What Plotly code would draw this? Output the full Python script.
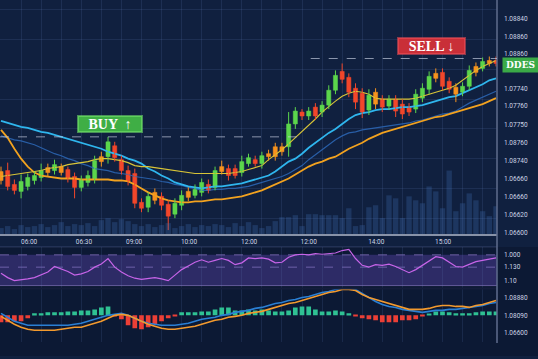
import plotly.graph_objects as go

# ---------------- data ----------------
OPEN = [1.06663, 1.06664, 1.06650, 1.06643, 1.06648, 1.06654, 1.06657, 1.06667, 1.06664, 1.06668,
        1.06665, 1.06658, 1.06647, 1.06652, 1.06655, 1.06678, 1.06678, 1.06689, 1.06675, 1.06664,
        1.06661, 1.06632, 1.06627, 1.06642, 1.06638, 1.06630, 1.06620, 1.06629, 1.06643, 1.06639,
        1.06642, 1.06650, 1.06647, 1.06668, 1.06666, 1.06666, 1.06662, 1.06671, 1.06675, 1.06671,
        1.06681, 1.06688, 1.06688, 1.06688, 1.06711, 1.06723, 1.06719, 1.06728, 1.06723, 1.06730,
        1.06745, 1.06764, 1.06758, 1.06747, 1.06742, 1.06725, 1.06743, 1.06736, 1.06729, 1.06736,
        1.06731, 1.06728, 1.06726, 1.06737, 1.06746, 1.06762, 1.06763, 1.06754, 1.06748, 1.06743,
        1.06749, 1.06769, 1.06767, 1.06775, 1.06775]
HIGH = [1.06668, 1.06672, 1.06655, 1.06660, 1.06661, 1.06663, 1.06671, 1.06671, 1.06675, 1.06671,
        1.06668, 1.06662, 1.06659, 1.06664, 1.06679, 1.06683, 1.06698, 1.06693, 1.06679, 1.06669,
        1.06666, 1.06636, 1.06642, 1.06646, 1.06642, 1.06634, 1.06636, 1.06644, 1.06647, 1.06650,
        1.06656, 1.06655, 1.06668, 1.06674, 1.06670, 1.06670, 1.06679, 1.06681, 1.06679, 1.06683,
        1.06685, 1.06692, 1.06692, 1.06723, 1.06728, 1.06726, 1.06728, 1.06732, 1.06734, 1.06750,
        1.06765, 1.06772, 1.06762, 1.06752, 1.06747, 1.06746, 1.06747, 1.06740, 1.06740, 1.06740,
        1.06736, 1.06732, 1.06746, 1.06752, 1.06764, 1.06767, 1.06767, 1.06758, 1.06752, 1.06753,
        1.06770, 1.06773, 1.06778, 1.06779, 1.06779]
LOW = [1.06650, 1.06644, 1.06640, 1.06636, 1.06644, 1.06650, 1.06653, 1.06658, 1.06660, 1.06659,
       1.06652, 1.06636, 1.06643, 1.06648, 1.06651, 1.06668, 1.06671, 1.06673, 1.06660, 1.06649,
       1.06626, 1.06622, 1.06622, 1.06630, 1.06624, 1.06604, 1.06616, 1.06624, 1.06633, 1.06636,
       1.06638, 1.06641, 1.06644, 1.06660, 1.06654, 1.06656, 1.06658, 1.06668, 1.06668, 1.06666,
       1.06674, 1.06674, 1.06679, 1.06678, 1.06706, 1.06715, 1.06715, 1.06715, 1.06718, 1.06726,
       1.06741, 1.06752, 1.06738, 1.06726, 1.06717, 1.06720, 1.06726, 1.06723, 1.06725, 1.06718,
       1.06716, 1.06719, 1.06722, 1.06733, 1.06741, 1.06753, 1.06745, 1.06742, 1.06733, 1.06739,
       1.06745, 1.06759, 1.06764, 1.06769, 1.06769]
CLOSE = [1.06654, 1.06648, 1.06644, 1.06653, 1.06657, 1.06659, 1.06664, 1.06662, 1.06670, 1.06662,
         1.06656, 1.06647, 1.06655, 1.06659, 1.06674, 1.06673, 1.06693, 1.06677, 1.06664, 1.06653,
         1.06631, 1.06626, 1.06638, 1.06634, 1.06629, 1.06618, 1.06631, 1.06639, 1.06637, 1.06645,
         1.06652, 1.06644, 1.06664, 1.06663, 1.06659, 1.06659, 1.06673, 1.06677, 1.06671, 1.06679,
         1.06678, 1.06678, 1.06683, 1.06711, 1.06724, 1.06719, 1.06724, 1.06719, 1.06730, 1.06745,
         1.06760, 1.06756, 1.06743, 1.06733, 1.06723, 1.06740, 1.06731, 1.06728, 1.06736, 1.06724,
         1.06721, 1.06723, 1.06741, 1.06747, 1.06759, 1.06757, 1.06749, 1.06746, 1.06741, 1.06749,
         1.06765, 1.06763, 1.06774, 1.06772, 1.06772]
# candles drawn in the neutral (orange) tone
NEUTRAL = [0, 7, 9, 15, 23, 28, 33, 40, 41, 42, 56, 65, 68, 71, 73]

MA_FAST = [1.06658, 1.06659, 1.06660, 1.06661, 1.06662, 1.06663, 1.06664, 1.06666, 1.06667, 1.06668,
           1.06670, 1.06671, 1.06672, 1.06673, 1.06675, 1.06676, 1.06676, 1.06675, 1.06674, 1.06672,
           1.06669, 1.06668, 1.06668, 1.06667, 1.06666, 1.06665, 1.06664, 1.06663, 1.06662, 1.06661,
           1.06661, 1.06661, 1.06661, 1.06661, 1.06661, 1.06662, 1.06663, 1.06665, 1.06667, 1.06669,
           1.06675, 1.06680, 1.06685, 1.06691, 1.06697, 1.06703, 1.06710, 1.06716, 1.06723, 1.06729,
           1.06734, 1.06739, 1.06742, 1.06744, 1.06743, 1.06741, 1.06737, 1.06736, 1.06736, 1.06736,
           1.06736, 1.06736, 1.06737, 1.06739, 1.06741, 1.06743, 1.06745, 1.06747, 1.06750, 1.06755,
           1.06760, 1.06765, 1.06769, 1.06772, 1.06775]
MA_MID = [1.06714, 1.06712, 1.06710, 1.06708, 1.06707, 1.06705, 1.06703, 1.06702, 1.06700, 1.06698,
          1.06696, 1.06694, 1.06692, 1.06690, 1.06688, 1.06686, 1.06683, 1.06681, 1.06679, 1.06676,
          1.06674, 1.06671, 1.06666, 1.06663, 1.06659, 1.06656, 1.06652, 1.06650, 1.06648, 1.06647,
          1.06646, 1.06647, 1.06648, 1.06648, 1.06649, 1.06650, 1.06651, 1.06653, 1.06655, 1.06657,
          1.06659, 1.06663, 1.06668, 1.06673, 1.06676, 1.06681, 1.06687, 1.06692, 1.06697, 1.06702,
          1.06706, 1.06711, 1.06716, 1.06720, 1.06722, 1.06723, 1.06725, 1.06726, 1.06726, 1.06727,
          1.06728, 1.06728, 1.06729, 1.06730, 1.06732, 1.06734, 1.06736, 1.06738, 1.06739, 1.06742,
          1.06745, 1.06748, 1.06751, 1.06755, 1.06757]
MA_MID_B = [1.06699, 1.06697, 1.06695, 1.06694, 1.06692, 1.06690, 1.06687, 1.06684, 1.06681, 1.06679,
            1.06676, 1.06674, 1.06671, 1.06669, 1.06666, 1.06665, 1.06664, 1.06662, 1.06661, 1.06660,
            1.06658, 1.06657, 1.06656, 1.06655, 1.06653, 1.06652, 1.06650, 1.06649, 1.06647, 1.06646,
            1.06644, 1.06644, 1.06645, 1.06645, 1.06646, 1.06646, 1.06647, 1.06648, 1.06650, 1.06652,
            1.06654, 1.06656, 1.06658, 1.06661, 1.06665, 1.06669, 1.06675, 1.06680, 1.06685, 1.06690,
            1.06695, 1.06699, 1.06702, 1.06703, 1.06705, 1.06706, 1.06707, 1.06708, 1.06709, 1.06710,
            1.06711, 1.06712, 1.06714, 1.06715, 1.06717, 1.06719, 1.06721, 1.06722, 1.06724, 1.06728,
            1.06732, 1.06735, 1.06738, 1.06741, 1.06744]
MA_SLOW = [1.06705, 1.06697, 1.06686, 1.06676, 1.06668, 1.06662, 1.06659, 1.06658, 1.06657, 1.06656,
           1.06656, 1.06656, 1.06655, 1.06655, 1.06655, 1.06655, 1.06655, 1.06654, 1.06654, 1.06653,
           1.06650, 1.06646, 1.06642, 1.06639, 1.06636, 1.06634, 1.06633, 1.06632, 1.06632, 1.06633,
           1.06633, 1.06634, 1.06635, 1.06635, 1.06636, 1.06637, 1.06638, 1.06640, 1.06642, 1.06644,
           1.06647, 1.06650, 1.06653, 1.06656, 1.06660, 1.06664, 1.06668, 1.06671, 1.06673, 1.06676,
           1.06678, 1.06682, 1.06686, 1.06689, 1.06692, 1.06696, 1.06699, 1.06702, 1.06704, 1.06706,
           1.06708, 1.06710, 1.06712, 1.06714, 1.06716, 1.06718, 1.06719, 1.06721, 1.06723, 1.06725,
           1.06727, 1.06729, 1.06731, 1.06734, 1.06737]

VOLUME = [24, 32, 20, 36, 28, 32, 40, 28, 36, 48, 32, 40, 36, 44, 32,
          56, 64, 48, 60, 52, 40,
          32, 40, 28, 36, 44, 24, 32, 40, 28, 36,
          32, 40, 36, 28, 44, 32, 48, 36, 24, 32,
          52, 68, 68, 76, 32, 80, 80, 76, 76, 76, 64, 104, 32, 36, 108, 116, 64, 156, 144, 64,
          152, 136, 124, 192, 172, 104, 256, 92, 124, 164, 136, 92, 72, 112]

RSI = [40, 33, 28, 29, 31, 33, 37, 42, 51, 47, 43, 37, 39, 43, 50, 55, 64, 50, 42, 36,
       32, 30, 31, 33, 31, 28, 37, 46, 52, 58, 62, 58, 61, 64, 61, 54, 57, 65, 64, 65,
       63, 57, 58, 66, 70, 71, 70, 72, 71, 72, 73, 77, 79, 64, 53, 50, 54, 53, 55, 51,
       46, 41, 46, 53, 60, 67, 65, 58, 51, 50, 54, 59, 61, 63, 65]
RSI_LEVELS = [70, 50, 20]

MACD = [-1, -5, -9, -12, -14, -15, -15, -15, -15, -14, -13, -12, -12, -10, -8, -6, -3, 0, 1, 0,
        -3, -6, -9, -11, -13, -14, -14, -13, -12, -11, -9, -7, -5, -4, -2, -1, 0, 2, 3, 4,
        6, 8, 10, 12, 13, 15, 17, 19, 21, 23, 24, 26, 26, 25, 21, 18, 16, 14, 12, 10,
        8, 6, 6, 6, 7, 9, 10, 10, 9, 9, 8, 10, 11, 13, 15]
SIGNAL = [2, -2, -6, -8, -10, -10, -10, -10, -10, -10, -10, -9, -8, -6, -4, -2, 0, 1, 2, 0,
          -3, -6, -8, -9, -10, -10, -10, -9, -8, -6, -4, -3, -2, 0, 1, 3, 4, 5, 7, 8,
          10, 12, 13, 15, 16, 18, 19, 21, 23, 24, 26, 27, 27, 26, 22, 18, 14, 11, 9, 8,
          6, 5, 4, 3, 4, 5, 5, 6, 6, 7, 8, 9, 10, 12, 13]
HIST = [-7, -7, -6, -6, -3, 2, 2, 3, 3, 3, 4, 4, 5, 5, 6, 8, 9,
        -1, -4, -10, -13, -14, -12, -9, -6, -3, -1,
        3, 3, 3, 4, 4, 6, 8, 8, 5, 5, 6, 5, 6, 5,
        4, 4, 5, 8, 9, 9, 6, 4, 4, 5, 4, 2,
        -1, -3, -4, -5, -7, -7, -7, -5, -5, -4, -1,
        1, 4, 4, 3, 2, 2, 2, 3, 4, 4, 4]

TIME_LABELS = ["06:00", "06:30", "09:00", "10:00", "12:00", "12:00", "14:00", "15:00"]
TIME_POS = [4.2, 12.4, 19.9, 28.1, 37.1, 46.0, 56.1, 66.1]
PRICE_TICKS = [1.06817, 1.06799, 1.06782, 1.06747, 1.06729, 1.06710,
               1.06692, 1.06674, 1.06656, 1.06638, 1.06619, 1.06601]
PRICE_LABELS = ["1.08840", "1.08860", "1.08860", "1.07740", "1.07760", "1.07750",
                "1.08760", "1.08740", "1.06660", "1.06660", "1.06620", "1.06600"]
RSI_TICKS = [70, 50, 28]
RSI_LABELS = ["1.000", "1.130", "1.10"]
MACD_TICKS = [18, 0, -18]
MACD_LABELS = ["1.08880", "1.08090", "1.06600"]
BUY_LEVEL = 1.06698
SELL_LEVEL = 1.06777
TAG_PRICE = 1.06770

# ---------------- figure ----------------
W, H = 538, 359
N = len(OPEN)
X = list(range(N))
BG = "#10203f"


def dom(top_px, bottom_px):
    return [1 - bottom_px / H, 1 - top_px / H]


GREEN, RED, ORANGE = "#5cd64c", "#f2472b", "#f7931e"
tone = []
for i in range(N):
    if i in NEUTRAL:
        tone.append(ORANGE)
    elif CLOSE[i] >= OPEN[i]:
        tone.append(GREEN)
    else:
        tone.append(RED)

fig = go.Figure()

# volume (background)
fig.add_trace(go.Bar(x=X, y=VOLUME, yaxis="y4", width=0.8,
                     marker=dict(color="rgba(70,120,195,0.26)", line_width=0),
                     hoverinfo="skip"))

# moving averages
fig.add_trace(go.Scatter(x=X, y=MA_MID_B, mode="lines", line=dict(color="rgba(45,105,185,0.85)", width=1.2)))
fig.add_trace(go.Scatter(x=X, y=MA_SLOW, mode="lines", line=dict(color="#f2a21f", width=1.8)))
fig.add_trace(go.Scatter(x=X, y=MA_MID, mode="lines", line=dict(color="#2fb6ee", width=1.8)))
fig.add_trace(go.Scatter(x=X, y=MA_FAST, mode="lines", line=dict(color="#d8c437", width=1.1)))

# candle wicks
for col in (GREEN, RED, ORANGE):
    wx, wy = [], []
    for i in range(N):
        if tone[i] == col:
            wx += [i, i, None]
            wy += [HIGH[i], LOW[i], None]
    fig.add_trace(go.Scatter(x=wx, y=wy, mode="lines", line=dict(color=col, width=1), hoverinfo="skip"))

# candle bodies
fig.add_trace(go.Bar(x=X, y=[abs(c - o) for o, c in zip(OPEN, CLOSE)],
                     base=[min(o, c) for o, c in zip(OPEN, CLOSE)],
                     width=0.62, marker=dict(color=tone, line=dict(color=tone, width=0.5))))

# RSI
fig.add_trace(go.Scatter(x=X, y=RSI, yaxis="y2", mode="lines", line=dict(color="#c764e8", width=1.2)))

# MACD
fig.add_trace(go.Bar(x=X, y=HIST, yaxis="y3", width=0.7,
                     marker=dict(color=["#2fc193" if v >= 0 else "#ec3f36" for v in HIST], line_width=0)))
fig.add_trace(go.Scatter(x=X, y=SIGNAL, yaxis="y3", mode="lines", line=dict(color="#2a7fd4", width=1.6)))
fig.add_trace(go.Scatter(x=X, y=MACD, yaxis="y3", mode="lines", line=dict(color="#f39a2e", width=1.6)))

tickfont = dict(family="Roboto", size=6.5, color="#cdd4e5")
grid = "rgba(95,125,185,0.17)"
xr = [-0.15, 74.15]

shapes = [
    # darker lower region
    dict(type="rect", xref="paper", yref="paper", x0=-0.01, x1=1.2, y0=0, y1=dom(0, 249)[0],
         fillcolor="rgba(4,10,28,0.30)", line_width=0, layer="below"),
    # RSI band
    dict(type="rect", xref="paper", yref="y2", x0=0, x1=1, y0=RSI_LEVELS[2], y1=RSI_LEVELS[0],
         fillcolor="rgba(105,75,190,0.36)", line_width=0, layer="below"),
    dict(type="line", xref="paper", yref="y2", x0=0, x1=1, y0=RSI_LEVELS[0], y1=RSI_LEVELS[0],
         line=dict(color="rgba(175,150,235,0.55)", width=1, dash="dash"), layer="below"),
    dict(type="line", xref="paper", yref="y2", x0=0, x1=1, y0=RSI_LEVELS[1], y1=RSI_LEVELS[1],
         line=dict(color="rgba(175,150,235,0.5)", width=1, dash="dash"), layer="below"),
    dict(type="line", xref="paper", yref="y2", x0=0, x1=1, y0=RSI_LEVELS[2], y1=RSI_LEVELS[2],
         line=dict(color="rgba(160,140,220,0.55)", width=1), layer="below"),
    # panel separators
    dict(type="line", xref="paper", yref="paper", x0=0, x1=1, y0=dom(249, 249)[0], y1=dom(249, 249)[0],
         line=dict(color="rgba(110,120,170,0.35)", width=1)),
    dict(type="line", xref="paper", yref="paper", x0=0, x1=1, y0=dom(291, 291)[0], y1=dom(291, 291)[0],
         line=dict(color="rgba(20,30,60,0.9)", width=2)),
    # right axis line
    dict(type="line", xref="paper", yref="paper", x0=1, x1=1, y0=dom(0, 346)[0], y1=1,
         line=dict(color="#5f6d8e", width=1.5)),
    # buy / sell levels
    dict(type="line", xref="x", yref="y", x0=xr[0], x1=44.2, y0=BUY_LEVEL, y1=BUY_LEVEL,
         line=dict(color="rgba(205,212,230,0.65)", width=1, dash="dash")),
    dict(type="line", xref="x", yref="y", x0=46.3, x1=xr[1], y0=SELL_LEVEL, y1=SELL_LEVEL,
         line=dict(color="rgba(205,212,230,0.65)", width=1, dash="dash")),
]

annotations = [
    dict(x=16.3, y=1.06711, xref="x", yref="y", text="<b>BUY  ↑</b>", showarrow=False,
         font=dict(family="Liberation Serif", size=14, color="white"),
         bgcolor="#3fae45", bordercolor="rgba(120,235,110,0.55)", borderwidth=2, borderpad=0,
         width=62, height=14),
    dict(x=64.4, y=1.06790, xref="x", yref="y", text="<b>SELL ↓</b>", showarrow=False,
         font=dict(family="Liberation Serif", size=14, color="white"),
         bgcolor="#c92f38", bordercolor="rgba(240,80,90,0.55)", borderwidth=2, borderpad=0,
         width=65, height=14),
    dict(x=1, y=TAG_PRICE, xref="paper", yref="y", xanchor="left", xshift=5, text="<b>DDES</b>",
         showarrow=False, font=dict(family="DejaVu Serif", size=9, color="white"),
         bgcolor="#3aaa47", borderpad=1, width=33, height=12),
]

fig.update_layout(
    width=W, height=H, margin=dict(l=0, r=41, t=0, b=0),
    paper_bgcolor=BG, plot_bgcolor="rgba(0,0,0,0)",
    showlegend=False, hovermode=False, barmode="overlay",
    xaxis=dict(range=xr, anchor="y", tickmode="array", tickvals=TIME_POS, ticktext=TIME_LABELS,
               tickfont=tickfont, ticks="", showgrid=False, zeroline=False,
               showline=True, linecolor="#8892a8", linewidth=2,
               minor=dict(tickmode="linear", tick0=0, dtick=3, showgrid=True, gridcolor=grid, gridwidth=1)),
    yaxis=dict(domain=dom(0, 236), range=[1.06600, 1.06836], side="right", anchor="x",
               tickmode="array", tickvals=PRICE_TICKS, ticktext=PRICE_LABELS, tickfont=tickfont,
               ticks="", ticklabelstandoff=6, showgrid=False, zeroline=False,
               minor=dict(tickmode="linear", tick0=1.06826, dtick=0.0003, showgrid=True,
                          gridcolor=grid, gridwidth=1)),
    yaxis2=dict(domain=dom(249, 290), range=[16.77, 82.9], side="right", anchor="x",
                tickmode="array", tickvals=RSI_TICKS, ticktext=RSI_LABELS, tickfont=tickfont,
                ticks="", ticklabelstandoff=6, showgrid=False, zeroline=False),
    yaxis3=dict(domain=dom(291, 345), range=[-27, 27], side="right", anchor="x",
                tickmode="array", tickvals=MACD_TICKS, ticktext=MACD_LABELS, tickfont=tickfont,
                ticks="", ticklabelstandoff=6, showgrid=False, zeroline=False),
    yaxis4=dict(overlaying="y", range=[0, 944], visible=False),
    shapes=shapes, annotations=annotations,
)

fig.write_html("out.html", config={"displayModeBar": False},
               post_script="document.body.style.margin='0';document.body.style.background='%s';" % BG)
